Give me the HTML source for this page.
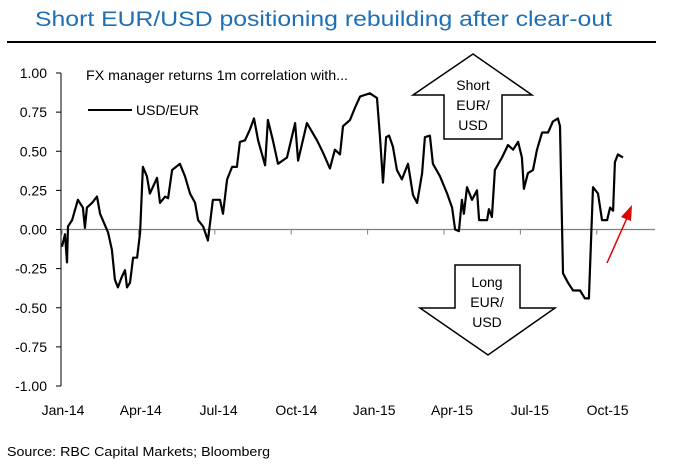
<!DOCTYPE html>
<html><head><meta charset="utf-8">
<style>
body{margin:0;background:#fff;}
svg{display:block;font-family:"Liberation Sans",Arial,sans-serif;}
</style></head>
<body>
<svg id="chart" width="679" height="467" viewBox="0 0 679 467">
  <text x="35" y="26" font-size="21" fill="#1f6fb5" textLength="577" lengthAdjust="spacingAndGlyphs">Short EUR/USD positioning rebuilding after clear-out</text>
  <line x1="7" y1="42" x2="656" y2="42" stroke="#000" stroke-width="2"/>
  <g id="axes"></g>
  <text x="86" y="80" font-size="14" textLength="262" lengthAdjust="spacingAndGlyphs">FX manager returns 1m correlation with...</text>
  <g>
    <line x1="88" y1="110" x2="132" y2="110" stroke="#000" stroke-width="2"/>
    <text x="136" y="115" font-size="14">USD/EUR</text>
  </g>
  <g>
    <polygon points="473,54 532,95 502,95 502,139 444,139 444,95 413,95" fill="#fff" stroke="#000" stroke-width="1.5"/>
    <text x="473" y="90" font-size="14" text-anchor="middle">Short</text>
    <text x="473" y="110" font-size="14" text-anchor="middle">EUR/</text>
    <text x="473" y="130" font-size="14" text-anchor="middle">USD</text>
  </g>
  <g>
    <polygon points="455,265 520,265 520,308 555,308 488,355 420,308 455,308" fill="#fff" stroke="#000" stroke-width="1.5"/>
    <text x="487" y="287" font-size="14" text-anchor="middle">Long</text>
    <text x="487" y="307" font-size="14" text-anchor="middle">EUR/</text>
    <text x="487" y="327" font-size="14" text-anchor="middle">USD</text>
  </g>
  <g id="series"></g>
  <g>
    <line x1="607" y1="263" x2="627" y2="218" stroke="#e00000" stroke-width="1.5"/>
    <polygon points="632,205 621,217 631,221" fill="#e00000"/>
  </g>
  <text x="7" y="456" font-size="13" textLength="263" lengthAdjust="spacingAndGlyphs">Source: RBC Capital Markets; Bloomberg</text>
</svg>
<script>
const yTickValues=[1,0.75,0.5,0.25,0,-0.25,-0.5,-0.75,-1];
const yTickLabels=["1.00","0.75","0.50","0.25","0.00","-0.25","-0.50","-0.75","-1.00"];
const xTickLabels=["Jan-14","Apr-14","Jul-14","Oct-14","Jan-15","Apr-15","Jul-15","Oct-15"];
const months=[0,.12,.2,.24,.4,.63,.83,.91,.99,1.19,1.39,1.51,1.83,1.98,2.1,2.22,2.38,2.5,2.58,2.7,2.82,2.98,3.1,3.21,3.37,3.49,3.77,3.89,4.09,4.21,4.37,4.68,4.88,5.08,5.28,5.4,5.6,5.79,5.99,6.27,6.39,6.55,6.75,6.94,7.06,7.26,7.46,7.62,7.78,8.06,8.17,8.37,8.57,8.93,9.25,9.37,9.72,10.12,10.36,10.63,10.83,11.03,11.15,11.43,11.63,11.83,12.22,12.5,12.62,12.74,12.86,12.98,13.13,13.29,13.49,13.73,13.93,14.09,14.29,14.4,14.6,14.72,15,15.28,15.48,15.6,15.75,15.87,15.95,16.07,16.27,16.47,16.55,16.87,16.94,17.06,17.18,17.46,17.7,17.9,18.1,18.25,18.33,18.49,18.69,18.85,19.05,19.29,19.48,19.68,19.76,19.88,20.08,20.28,20.56,20.75,20.91,21.07,21.27,21.43,21.63,21.75,21.87,21.94,22.06,22.26];
const usdEur=[-0.11,-0.03,-0.21,0.02,0.06,0.19,0.14,0.01,0.14,0.17,0.21,0.10,-0.02,-0.13,-0.32,-0.37,-0.30,-0.26,-0.37,-0.34,-0.18,-0.18,-0.02,0.40,0.34,0.23,0.33,0.17,0.21,0.20,0.38,0.42,0.34,0.23,0.17,0.06,0.02,-0.07,0.19,0.19,0.10,0.32,0.40,0.40,0.56,0.57,0.64,0.71,0.57,0.41,0.70,0.57,0.42,0.46,0.68,0.44,0.68,0.57,0.49,0.39,0.51,0.48,0.66,0.70,0.78,0.85,0.87,0.84,0.59,0.30,0.59,0.60,0.53,0.38,0.32,0.42,0.22,0.17,0.36,0.59,0.60,0.42,0.34,0.23,0.14,0.00,-0.01,0.19,0.10,0.27,0.19,0.25,0.06,0.06,0.13,0.08,0.38,0.46,0.54,0.51,0.56,0.46,0.26,0.36,0.38,0.51,0.62,0.62,0.69,0.71,0.66,-0.28,-0.34,-0.39,-0.39,-0.44,-0.44,0.27,0.23,0.06,0.06,0.14,0.12,0.43,0.48,0.46];
const NS="http://www.w3.org/2000/svg";
function yScale(v){return 229.5-v*156.5;}
function xScale(m){return 62+m*25.2;}
function tickX(q){return 62+q*76.4;}
const axes=document.getElementById('axes');
function mk(tag,attrs,parent){const e=document.createElementNS(NS,tag);for(const k in attrs)e.setAttribute(k,attrs[k]);parent.appendChild(e);return e;}
const yAxis=mk('line',{x1:61,y1:yScale(1),x2:61,y2:yScale(-1),stroke:'#000','stroke-width':1},axes);


const zero=mk('line',{x1:61,y1:yScale(0),x2:655,y2:yScale(0),stroke:'#808080','stroke-width':1.2},axes);


yTickValues.forEach((v,i)=>{
  const t=mk('line',{x1:56,y1:yScale(v),x2:61,y2:yScale(v),stroke:'#000'},axes);
  
  
  const l=mk('text',{x:47,y:yScale(v)+5,'font-size':14,'text-anchor':'end'},axes);
  l.textContent=yTickLabels[i];
  
  
});
xTickLabels.forEach((s,i)=>{
  const t=mk('line',{x1:tickX(i),y1:yScale(0),x2:tickX(i),y2:yScale(0)+5,stroke:'#808080'},axes);
  
  
  const l=mk('text',{x:63+i*77.8,y:415,'font-size':14,'text-anchor':'middle'},axes);
  l.textContent=s;
  
  
});
const d=months.map((m,i)=>(i?'L':'M')+xScale(m).toFixed(1)+','+yScale(usdEur[i]).toFixed(1)).join(' ');
const p=mk('path',{d:d,fill:'none',stroke:'#000','stroke-width':2.2,'stroke-linejoin':'round'},document.getElementById('series'));


</script>
</body></html>
